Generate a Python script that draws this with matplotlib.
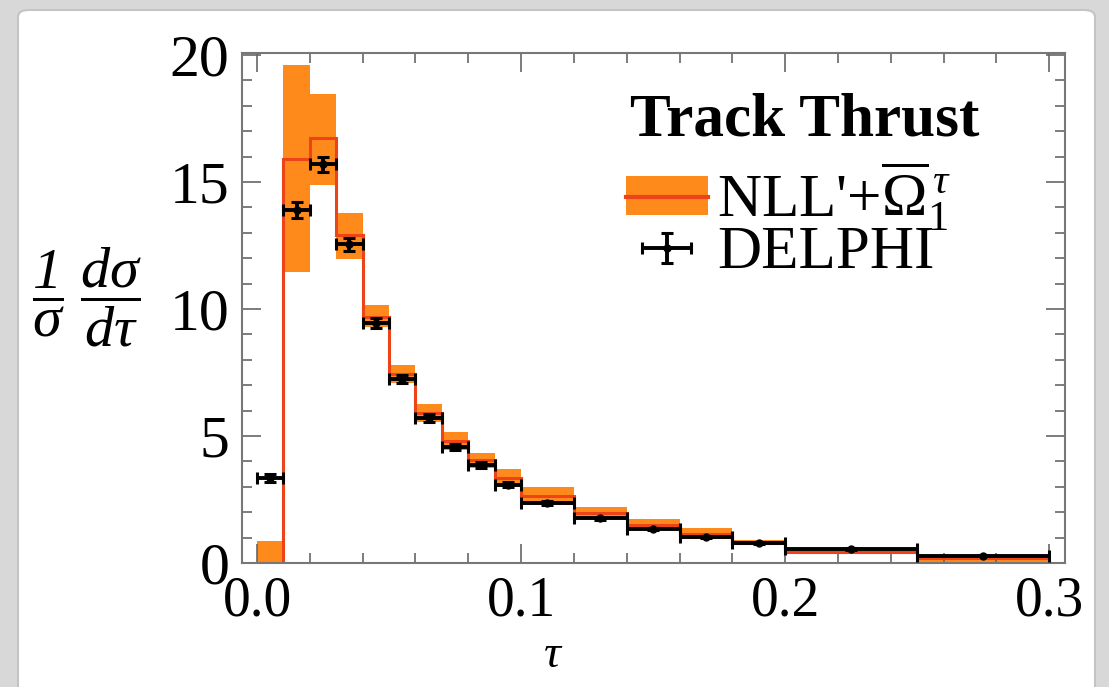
import numpy as np
import matplotlib
matplotlib.use("Agg")
import matplotlib.pyplot as plt
from matplotlib.patches import Patch, FancyBboxPatch
from matplotlib.lines import Line2D
from matplotlib.ticker import MultipleLocator
from matplotlib.legend_handler import HandlerErrorbar

plt.rcParams['font.family'] = ['Liberation Serif', 'DejaVu Serif']
plt.rcParams['mathtext.fontset'] = 'custom'
plt.rcParams['mathtext.rm'] = 'Liberation Serif'
plt.rcParams['mathtext.it'] = 'Liberation Serif:italic'
plt.rcParams['mathtext.bf'] = 'Liberation Serif:bold'
plt.rcParams['mathtext.sf'] = 'Liberation Serif:italic'  # used for the italic "1"

# bin edges in tau
edges = [0.0, 0.01, 0.02, 0.03, 0.04, 0.05, 0.06, 0.07, 0.08, 0.09, 0.10,
         0.12, 0.14, 0.16, 0.18, 0.20, 0.25, 0.30]

# NLL' + Omega theory band (low / central / high)
theory_lo = [0.0, 11.45, 14.9, 11.95, 9.3, 7.1, 5.55, 4.45, 3.75, 3.0, 2.3,
             1.7, 1.3, 0.95, 0.7, 0.35, 0.05]
theory_mid = [0.0, 15.9, 16.75, 12.9, 9.7, 7.45, 5.9, 4.8, 4.05, 3.35, 2.65,
              1.95, 1.5, 1.15, 0.8, 0.45, 0.2]
theory_hi = [0.85, 19.6, 18.45, 13.8, 10.15, 7.8, 6.25, 5.15, 4.35, 3.72, 2.98,
             2.2, 1.73, 1.38, 0.92, 0.6, 0.3]

# DELPHI data
data_y = [3.35, 13.9, 15.7, 12.55, 9.45, 7.25, 5.7, 4.55, 3.86, 3.08, 2.36,
          1.77, 1.34, 1.02, 0.79, 0.55, 0.28]
data_err = [0.15, 0.3, 0.3, 0.25, 0.2, 0.15, 0.15, 0.12, 0.1, 0.1, 0.08,
            0.06, 0.05, 0.05, 0.04, 0.03, 0.02]

orange = '#ff8a1c'
red = '#ec4418'

W, H = 1109, 687
fig = plt.figure(figsize=(W/100, H/100), dpi=100, facecolor='#d8d8d8')

# white slide card
card = FancyBboxPatch((18/W, -0.05), (1095-18)/W, (1-10/H) + 0.05,
                      boxstyle='round,pad=0,rounding_size=0.01',
                      transform=fig.transFigure, facecolor='white',
                      edgecolor='#c4c4c4', lw=1.5, zorder=-5)
fig.patches.append(card)

ax = fig.add_axes([242/W, 1-563/H, (1065-242)/W, (563-53)/H])
ax.set_facecolor('white')

e = np.array(edges)
centers = (e[:-1] + e[1:]) / 2
halfw = (e[1:] - e[:-1]) / 2

ax.stairs(theory_hi, edges, baseline=theory_lo, fill=True, color=orange, lw=0, zorder=1)
ax.stairs(theory_mid, edges, baseline=None, color=red, lw=2.2, zorder=2)
eb = ax.errorbar(centers, data_y, xerr=halfw, yerr=data_err, fmt='o', color='black',
                 ms=5, elinewidth=2.8, capsize=4, capthick=2.2, zorder=3)

ax.set_xlim(-0.0057, 0.306)
ax.set_ylim(0, 20.08)
ax.xaxis.set_major_locator(MultipleLocator(0.1))
ax.xaxis.set_minor_locator(MultipleLocator(0.02))
ax.yaxis.set_major_locator(MultipleLocator(5))
ax.yaxis.set_minor_locator(MultipleLocator(1))
ax.xaxis.set_major_formatter(matplotlib.ticker.FormatStrFormatter('%.1f'))
ax.tick_params(which='both', direction='in', top=True, right=True, color='#666666',
               width=1.2)
ax.tick_params(which='major', length=14)
ax.tick_params(which='minor', length=7)
ax.tick_params(axis='x', pad=9, labelsize=40)
ax.tick_params(axis='y', pad=9, labelsize=43)
for s in ax.spines.values():
    s.set_color('#777777')
    s.set_linewidth(1.5)

# legend heading and entries
ax.text(0.471, 0.868, 'Track Thrust', transform=ax.transAxes, fontsize=44,
        fontweight='bold', ha='left', va='center')
band_handle = (Patch(facecolor=orange, edgecolor='none'), Line2D([], [], color=red, lw=3))
leg = ax.legend([band_handle, eb], [r"NLL'+$\overline{\Omega}_1^{\,\tau}$", 'DELPHI'],
                loc='upper left', bbox_to_anchor=(0.466, 0.79), frameon=False,
                fontsize=44, handlelength=1.35,
                handleheight=0.6, handletextpad=0.15, labelspacing=-0.12,
                borderaxespad=0, borderpad=0,
                handler_map={eb: HandlerErrorbar(xerr_size=0.4, yerr_size=0.25)})

fig.text(87/W, 1-297/H, r'$\dfrac{\mathsf{1}}{\sigma}\;\dfrac{d\sigma}{d\tau}$',
         fontsize=42, ha='center', va='center')
fig.text(553/W, 1-656/H, r'$\tau$', fontsize=34, ha='center', va='center')

fig.savefig('out.png', dpi=100, facecolor=fig.get_facecolor())
